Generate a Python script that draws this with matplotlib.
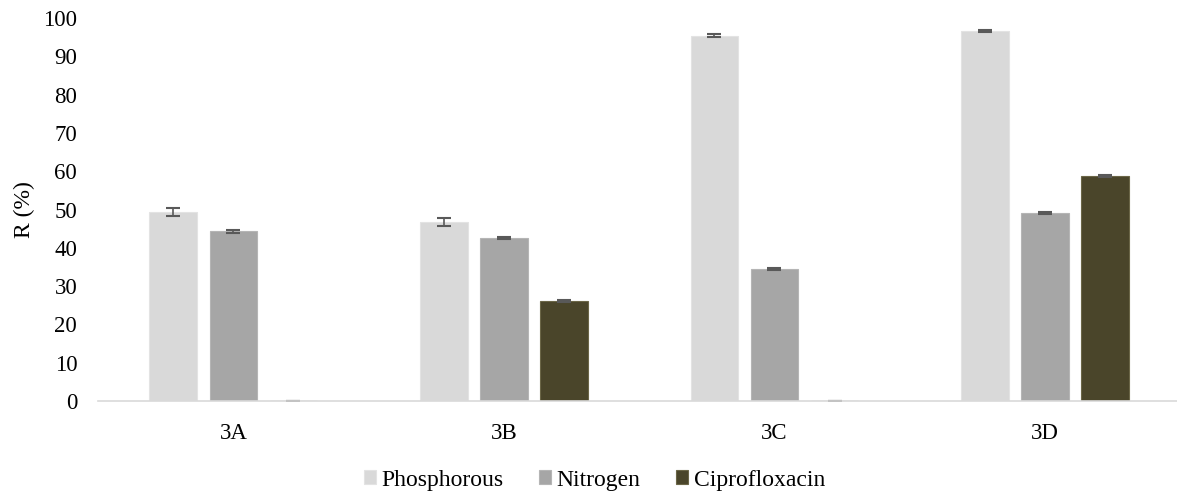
import numpy as np
import matplotlib
matplotlib.use("Agg")
import matplotlib.pyplot as plt

plt.rcParams["font.family"] = ["Liberation Serif", "DejaVu Serif"]

groups = ["3A", "3B", "3C", "3D"]
series = ["Phosphorous", "Nitrogen", "Ciprofloxacin"]
phosphorous = [49.3, 46.8, 95.4, 96.6]
nitrogen = [44.3, 42.6, 34.5, 49.1]
cipro = [0.0, 26.2, 0.0, 58.7]
phos_err = [1.0, 1.1, 0.3, 0.3]
nitro_err = [0.4, 0.3, 0.3, 0.3]
cipro_err = [0.0, 0.3, 0.0, 0.3]

colors = ["#D9D9D9", "#A6A6A6", "#4A452A"]
edges = ["#E3E3E3", "#B5B5B5", "#6B6647"]

fig = plt.figure(figsize=(11.77, 4.98), dpi=100)
ax = fig.add_axes([0.0833, 0.1948, 0.9195, 0.769])

x = np.arange(len(groups))
w = 0.176
step = 0.222
vals = [phosphorous, nitrogen, cipro]
errs = [phos_err, nitro_err, cipro_err]
for i, (v, e) in enumerate(zip(vals, errs)):
    ax.bar(x + (i - 1) * step, v, w, color=colors[i], edgecolor=edges[i],
           linewidth=0.8, label=series[i],
           yerr=e, error_kw=dict(ecolor="#595959", elinewidth=1.2,
                                 capsize=5, capthick=1.5))

ax.set_xlim(-0.5, 3.5)
ax.set_ylim(0, 100)
ax.set_yticks(np.arange(0, 101, 10))
ax.set_xticks(x)
ax.set_xticklabels(groups)
ax.tick_params(axis="both", length=0, labelsize=16.5, colors="black")
ax.tick_params(axis="y", pad=15)
ax.tick_params(axis="x", pad=16)
for s in ["top", "right", "left"]:
    ax.spines[s].set_visible(False)
ax.spines["bottom"].set_color("#D9D9D9")
ax.spines["bottom"].set_linewidth(1.2)
ax.set_ylabel("R (%)", fontsize=17, labelpad=6)

fig.legend(loc="center", bbox_to_anchor=(0.505, 0.036), ncol=3, frameon=False,
           fontsize=17, handlelength=0.5, handleheight=0.5, handletextpad=0.25,
           columnspacing=1.5)

fig.savefig("out.png", dpi=100)
